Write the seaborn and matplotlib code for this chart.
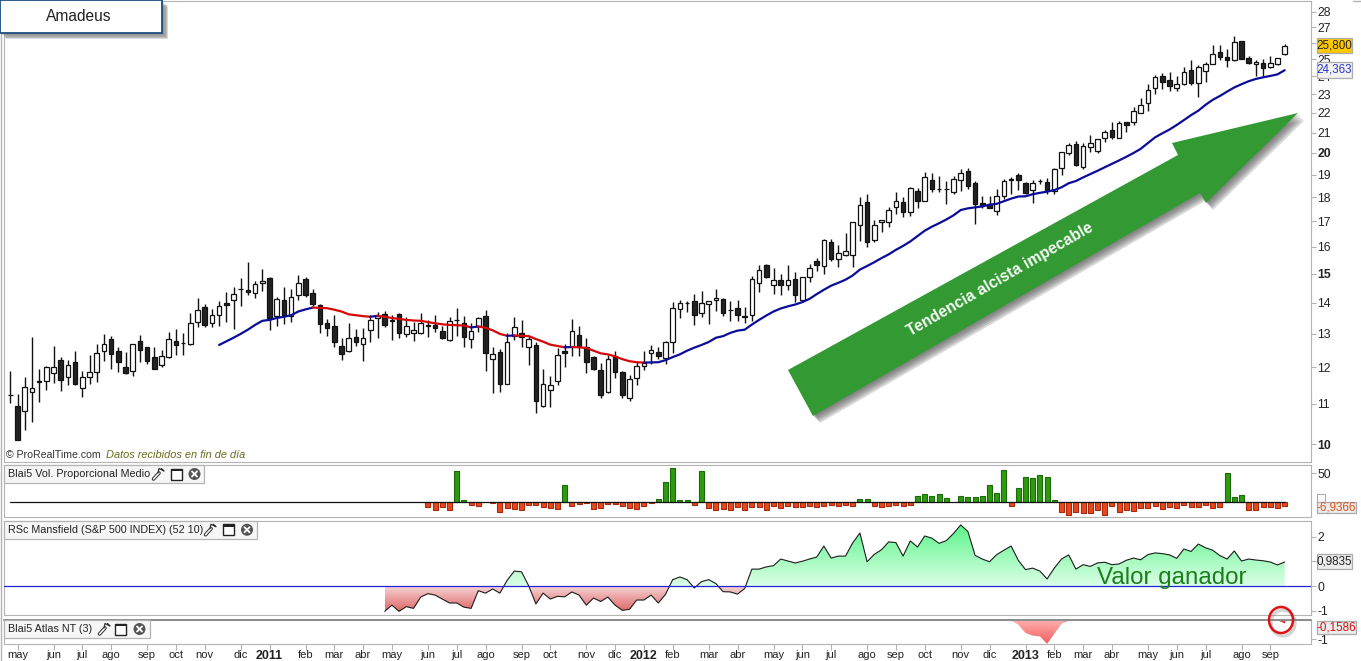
import numpy as np
import matplotlib
matplotlib.use('Agg')
import matplotlib.pyplot as plt
from matplotlib.colors import LinearSegmentedColormap
from matplotlib.patches import Rectangle, Polygon, Ellipse, Circle
from matplotlib.path import Path
import seaborn as sns

# weekly candles, May 2010 - Sep 2013
opens = [11.25,10.95,10.81,11.31,11.62,11.61,11.85,12.21,11.73,12.15,
         11.42,11.72,11.88,12.47,12.84,12.48,12.0,11.91,12.78,12.6,
         12.3,12.08,12.3,12.78,12.72,12.68,13.37,13.86,13.34,13.6,
         14.0,14.08,14.46,14.44,14.32,14.67,14.86,13.56,14.09,13.58,
         14.25,14.82,14.33,13.92,13.34,13.25,12.62,12.47,12.9,12.68,
         13.11,13.5,13.63,13.45,13.63,13.01,13.04,13.04,13.29,13.28,
         13.09,12.8,13.44,13.34,12.84,13.25,13.57,12.24,12.45,11.55,
         12.94,13.02,12.59,12.66,10.96,11.37,11.61,12.48,12.6,12.96,
         12.59,12.3,11.94,11.33,12.34,11.86,11.15,11.7,12.03,12.42,
         12.44,12.27,12.75,13.8,14.0,14.06,13.67,13.96,14.08,14.13,
         13.76,13.83,13.57,13.59,14.68,15.3,14.61,14.78,14.61,14.82,
         14.1,14.88,15.47,15.28,16.18,15.54,15.69,15.69,16.83,17.78,
         16.25,16.95,16.95,17.57,17.78,17.36,18.28,17.84,18.74,18.37,
         18.37,18.21,18.74,19.14,18.6,17.74,17.7,17.44,18.07,18.78,
         18.96,18.6,18.3,18.73,18.66,18.28,19.28,20.02,20.42,19.35,
         20.31,20.1,20.74,21.15,20.75,21.51,21.51,22.02,22.55,23.33,
         24.0,23.8,23.33,23.6,24.35,23.65,24.3,24.73,25.42,25.16,
         24.96,26.09,25.1,24.75,24.8,24.55,24.7,25.32]
closes = [11.25,10.09,11.46,11.43,11.58,12.0,12.0,11.66,12.06,11.54,
          11.73,11.86,12.42,12.69,12.38,12.17,11.83,12.69,12.5,12.2,
          11.96,12.33,12.84,12.65,12.72,13.34,13.76,13.29,13.6,13.9,
          13.92,14.3,14.46,14.36,14.64,14.75,13.51,14.13,13.6,14.2,
          14.68,14.25,13.95,13.3,13.18,12.74,12.38,12.87,12.74,12.87,
          13.44,13.56,13.27,13.4,13.04,13.23,13.11,13.34,13.23,13.17,
          12.86,13.4,13.44,12.89,13.08,13.5,12.41,12.39,11.55,12.75,
          13.21,12.89,12.84,11.09,11.55,11.5,12.36,12.41,13.08,12.62,
          12.15,11.96,11.23,12.24,11.88,11.25,11.67,12.03,12.12,12.5,
          12.32,12.75,13.82,14.0,14.0,13.6,14.0,14.06,14.16,13.66,
          13.76,13.6,13.53,14.81,15.14,14.88,14.78,14.61,14.78,14.26,
          14.88,15.21,15.3,16.25,15.54,15.77,15.84,16.95,17.68,16.18,
          16.83,17.03,17.48,17.84,17.39,18.4,17.86,18.9,18.37,18.37,
          18.37,18.82,19.05,18.47,17.72,17.65,17.55,18.07,18.69,18.74,
          18.74,18.2,18.6,18.73,18.3,19.23,20.03,20.37,19.43,20.34,
          20.47,20.7,21.05,20.79,21.46,21.39,22.09,22.41,23.23,23.95,
          23.7,23.48,23.56,24.23,23.65,24.52,24.75,25.33,25.12,24.98,
          26.04,25.02,24.8,24.87,24.46,24.8,25.1,25.8]
highs = [11.9,11.27,11.74,12.91,11.95,12.04,12.64,12.3,12.22,12.49,
         11.9,12.37,12.7,13.0,12.94,12.6,12.46,12.69,12.97,12.6,
         12.6,12.52,13.06,13.16,13.02,13.65,14.16,13.97,13.8,14.07,
         14.36,14.54,14.85,15.44,14.74,15.18,14.87,14.2,14.55,14.47,
         14.97,14.88,14.47,13.97,13.48,13.6,12.87,13.34,13.16,13.18,
         13.61,13.7,13.74,13.6,13.66,13.53,13.37,13.66,13.45,13.61,
         13.25,13.53,13.84,13.58,13.34,13.53,13.76,12.61,12.55,13.02,
         13.53,13.45,12.92,12.75,11.96,11.76,12.57,12.69,13.48,13.25,
         12.87,12.32,12.12,12.37,12.48,11.9,11.79,12.17,12.48,12.67,
         12.6,12.79,14.01,14.1,14.05,14.3,14.4,14.06,14.48,14.16,
         14.07,14.1,13.85,14.93,15.3,15.36,15.21,14.99,15.33,15.07,
         14.88,15.36,15.58,16.29,16.3,16.07,16.54,16.97,18.0,18.16,
         17.07,17.07,17.6,18.21,18.01,18.43,18.4,19.13,19.05,18.95,
         18.7,18.94,19.27,19.28,18.69,18.06,18.06,18.34,18.82,18.91,
         19.05,18.67,18.75,18.8,18.84,19.3,20.06,20.5,20.56,20.47,
         20.9,20.7,21.15,21.55,21.58,21.53,22.3,22.8,23.6,24.08,
         24.17,24.25,24.03,24.55,24.94,24.65,24.85,25.87,25.87,25.6,
         26.4,26.1,25.2,24.94,25.04,25.17,25.1,25.92]
lows = [11.02,10.09,10.35,10.55,11.05,11.38,11.56,11.35,11.52,11.5,
        11.19,11.54,11.6,12.2,11.96,11.87,11.82,11.77,12.16,12.09,
        11.96,12.02,12.27,12.37,12.37,12.66,13.2,13.2,13.2,13.25,
        13.38,13.15,13.88,14.25,14.17,14.38,13.13,13.25,13.32,13.38,
        14.1,14.2,13.88,13.04,12.92,12.6,12.22,12.44,12.64,12.2,
        12.76,12.86,13.22,12.82,12.86,12.89,12.77,13.0,12.91,13.06,
        12.84,12.78,12.94,12.59,12.56,13.06,11.9,11.3,11.33,11.55,
        12.82,12.59,12.06,10.76,10.93,10.93,11.5,12.02,12.32,12.32,
        11.83,11.94,11.15,11.29,11.7,11.16,11.08,11.5,11.94,12.1,
        12.25,12.1,12.42,13.5,13.68,13.27,13.52,13.3,13.74,13.55,
        13.42,13.42,13.33,13.4,14.36,14.84,14.29,14.25,14.43,14.03,
        14.05,14.7,15.09,14.98,15.46,15.23,15.66,15.23,16.2,15.99,
        16.17,16.55,16.77,17.29,17.18,17.22,17.55,17.82,18.24,18.24,
        17.7,18.13,18.28,18.34,16.89,17.56,17.53,17.26,17.93,18.16,
        18.3,18.16,17.75,18.56,18.16,18.13,18.97,19.9,19.4,19.24,
        20.06,20.02,20.54,20.66,20.75,21.04,21.39,21.98,22.1,23.03,
        23.28,23.2,23.17,23.52,23.54,22.83,23.7,24.7,24.98,24.55,
        24.9,25.0,24.7,24.0,24.0,24.5,24.65,25.27]

# moving average, first value is at week 29
ma_first_week = 29
ma_values = [12.66,12.77,12.88,13.0,13.13,13.28,13.41,13.44,13.5,13.54,
             13.59,13.71,13.78,13.84,13.83,13.82,13.77,13.71,13.62,13.59,
             13.56,13.54,13.57,13.54,13.5,13.47,13.44,13.42,13.41,13.37,
             13.33,13.3,13.28,13.27,13.26,13.2,13.23,13.19,13.11,13.0,
             12.94,12.95,12.94,12.93,12.84,12.76,12.67,12.63,12.59,12.6,
             12.59,12.57,12.49,12.41,12.38,12.32,12.24,12.18,12.15,12.14,
             12.145,12.15,12.21,12.3,12.38,12.49,12.58,12.66,12.75,12.88,
             12.93,13.03,13.1,13.13,13.29,13.44,13.58,13.71,13.81,13.88,
             13.94,14.02,14.13,14.29,14.44,14.58,14.68,14.79,14.94,15.15,
             15.28,15.42,15.57,15.71,15.88,16.03,16.2,16.41,16.62,16.78,
             16.92,17.07,17.24,17.46,17.53,17.57,17.61,17.68,17.72,17.83,
             17.94,18.03,18.04,18.13,18.19,18.24,18.31,18.43,18.61,18.71,
             18.87,19.02,19.17,19.33,19.49,19.65,19.82,20.0,20.2,20.48,
             20.76,20.96,21.15,21.38,21.63,21.89,22.12,22.43,22.7,22.91,
             23.15,23.38,23.56,23.73,23.86,23.95,24.03,24.12,24.36]

vol_first_week = 58
vol_values = [-8.6,-14,-8.6,-14,53,3.5,-5,-7,0,-2,
              -17,-10,-12,-14,-5,-5,-8.6,-10,-12,29,
              -7,-3.5,-2,-12,-10,-3.5,-3.5,-7,-10,-12,
              -7,-2,5,35,58,3.5,3.5,-4.6,53,-10,
              -14,-12,-14,-8.6,-14,-8.6,-8.6,-14,-7,-10,
              -7,-8.6,-8.6,-7,-8.6,-7,-5,-7,-5,-7,
              5,5,-7,-8.6,-7,-5,-7,-5,10,14,
              10,14,7,0,10,9,9,10,29,16,
              55,-7,24,43,41,47,43,3.5,-17,-22,
              -17,-19,-19,-14,-22,-7,-17,-14,-16,-10,
              -10,-7,-12,-8.6,-10,-5,-8.6,-8.6,-5,-10,
              -8.6,50,9,12,-14,-14,-8.6,-8.6,-10,-6.94]

rs_first_week = 52
rs_values = [-1.03,-0.78,-1.03,-0.84,-0.91,-0.45,-0.31,-0.37,-0.53,-0.69,
             -0.69,-0.86,-0.91,-0.19,-0.29,-0.12,-0.29,0.23,0.61,0.58,
             0.01,-0.73,-0.29,-0.53,-0.42,-0.44,-0.24,-0.37,-0.78,-0.49,
             -0.63,-0.45,-0.78,-0.99,-0.95,-0.57,-0.57,-0.37,-0.69,-0.34,
             0.26,0.37,0.26,-0.08,0.18,0.26,0.1,-0.23,-0.24,-0.33,
             -0.1,0.69,0.69,0.78,0.83,1.1,1.02,0.94,1.01,1.1,
             1.18,1.63,1.14,1.22,1.22,1.76,2.16,0.99,1.29,1.48,
             1.8,1.77,1.22,1.84,1.59,2.04,1.95,1.74,1.85,2.14,
             2.49,2.22,1.25,1.1,0.99,1.28,1.46,1.63,1.05,0.67,
             0.73,0.61,0.29,0.73,1.1,1.27,0.69,0.87,0.8,0.94,
             0.97,0.87,0.9,1.05,1.14,1.07,1.28,1.35,1.32,1.27,
             1.13,1.51,1.41,1.71,1.56,1.46,1.24,1.1,1.43,1.02,
             1.1,1.06,1.03,0.98,0.86,0.98]

atlas_weeks = [139,140,141,142,143,144,145,146,147,148]
atlas_values = [-0.02,-0.25,-0.68,-0.82,-0.86,-1.25,-0.72,-0.2,-0.05,0]
atlas_end_weeks = [176,177]
atlas_end_values = [0,-0.16]

price_ticks = [10,11,12,13,14,15,16,17,18,19,20,21,22,23,24,25,26,27,28]
bold_ticks = [10,15,20]

month_weeks = [1,6,10,14,19,23,27,32,36,41,45,49,53,58,62,66,71,75,80,84,88,92,
               97,101,106,110,114,119,123,127,132,136,141,145,149,153,158,162,166,171,175]
month_labels = ['may','jun','jul','ago','sep','oct','nov','dic','2011','feb','mar','abr',
                'may','jun','jul','ago','sep','oct','nov','dic','2012','feb',
                'mar','abr','may','jun','jul','ago','sep','oct','nov','dic','2013','feb',
                'mar','abr','may','jun','jul','ago','sep']

W, H = 1361, 661
GRAY = '#b4b4b4'
LEFT, RIGHT = 4, 1311
XLIM = ((LEFT - 10.3) / 7.2, (RIGHT - 10.3) / 7.2)

sns.set_theme(style='white')
plt.rcParams['font.family'] = ['Liberation Sans', 'DejaVu Sans']
plt.rcParams['axes.linewidth'] = 0.8
plt.rcParams['axes.edgecolor'] = GRAY

fig = plt.figure(figsize=(W / 100, H / 100), dpi=100)


def panel(top, bottom):
    ax = fig.add_axes([LEFT / W, 1 - bottom / H, (RIGHT - LEFT) / W, (bottom - top) / H])
    ax.yaxis.tick_right()
    ax.tick_params(axis='y', length=3.6, width=0.8, color=GRAY, pad=1, labelsize=8.8,
                   labelcolor='#222222', which='major', right=True)
    ax.tick_params(axis='y', which='minor', length=0)
    ax.set_xticks([])
    return ax


def gradient_fill(ax, x, y, cond, c_far, c_near, vfar):
    poly = ax.fill_between(x, 0, y, where=cond, interpolate=True, facecolor='none', edgecolor='none')
    path = Path.make_compound_path(*poly.get_paths())
    cmap = LinearSegmentedColormap.from_list('g', [c_near, c_far])
    lo, hi = (0, vfar) if vfar > 0 else (vfar, 0)
    grad = np.linspace(0, 1, 256)[:, None] if vfar > 0 else np.linspace(1, 0, 256)[:, None]
    im = ax.imshow(grad, extent=[x[0], x[-1], lo, hi], origin='lower', aspect='auto', cmap=cmap, zorder=1)
    im.set_clip_path(path, transform=ax.transData)


# main price panel
ax = panel(1, 462)
weeks = np.arange(len(opens))
o, c, h, l = map(np.array, (opens, closes, highs, lows))
ax.set_yscale('log')
ax.vlines(weeks, l, h, color='#111111', lw=1.0, zorder=2)
up = c >= o
ax.bar(weeks[up], (c - o)[up], bottom=o[up], width=0.62, facecolor='white', edgecolor='#111111', lw=0.9, zorder=3)
ax.bar(weeks[~up], (o - c)[~up], bottom=c[~up], width=0.62, facecolor='#222222', edgecolor='#111111', lw=0.9, zorder=3)

ma = np.array(ma_values)
ma_weeks = ma_first_week + np.arange(len(ma))
rising = np.diff(ma) >= 0
start = 0
for i in range(1, len(rising) + 1):
    if i == len(rising) or rising[i] != rising[start]:
        sns.lineplot(x=ma_weeks[start:i + 1], y=ma[start:i + 1], ax=ax, estimator=None, sort=False,
                     color='#0c0c9a' if rising[start] else '#d40808', linewidth=1.6, zorder=4,
                     solid_capstyle='round')
        start = i
ax.set_ylim(10 * 2 ** ((444 - 462) / 291), 10 * 2 ** ((444 - 1) / 291))
ax.set_yticks(price_ticks)
ax.set_yticklabels([str(t) for t in price_ticks])
ax.minorticks_off()
for t, lab in zip(price_ticks, ax.get_yticklabels()):
    if t in bold_ticks:
        lab.set_fontweight('bold')

# volume oscillator
ax_v = panel(465, 517)
vol = np.array(vol_values)
vol_weeks = vol_first_week + np.arange(len(vol))
sns.barplot(x=vol_weeks[vol > 0], y=vol[vol > 0], native_scale=True, ax=ax_v, color='#2f9a10',
            edgecolor='#1b6a08', linewidth=0.8, width=0.72, saturation=1, zorder=2)
sns.barplot(x=vol_weeks[vol < 0], y=vol[vol < 0], native_scale=True, ax=ax_v, color='#e9481c',
            edgecolor='#a52a10', linewidth=0.8, width=0.72, saturation=1, zorder=2)
ax_v.plot([-0.1, 177], [0, 0], color='#111111', lw=0.9, zorder=3)
ax_v.set_ylim(-25.5, 64)
ax_v.set_yticks([50])
ax_v.set_yticklabels(['50'])

# RS Mansfield
ax_r = panel(521, 615)
rs = np.array(rs_values)
rs_weeks = rs_first_week + np.arange(len(rs))
gradient_fill(ax_r, rs_weeks, rs, rs >= 0, '#5af58a', '#dcffe6', 2.5)
gradient_fill(ax_r, rs_weeks, rs, rs <= 0, '#dd5f5f', '#f7d4d4', -1.1)
sns.lineplot(x=rs_weeks, y=rs, ax=ax_r, color='#1c1c1c', linewidth=0.8, estimator=None, zorder=3)
ax_r.axhline(0, color='#2222dd', lw=0.9, zorder=4)
ax_r.set_ylim(-1.18, 2.65)
ax_r.set_yticks([-1, 0, 1, 2])
ax_r.set_yticklabels(['-1', '0', '1', '2'])

# Atlas NT
ax_a = panel(620, 644)
gradient_fill(ax_a, np.array(atlas_weeks, dtype=float), np.array(atlas_values), np.array(atlas_values) <= 0,
              '#f25a5a', '#ffb4b4', -1.3)
ax_a.fill_between(atlas_end_weeks, 0, atlas_end_values, color='#e03030', lw=0, zorder=2)
ax_a.axhline(0, color='#8c8c8c', lw=1.4, zorder=4, clip_on=False)
ax_a.set_ylim(-1.26, 0)
ax_a.set_yticks([-1])
ax_a.set_yticklabels(['-1'])
ax_a.set_xticks(month_weeks)
ax_a.set_xticklabels(month_labels)
ax_a.tick_params(axis='x', bottom=True, length=4, width=0.8, color=GRAY, pad=0.5, labelsize=8,
                 labelcolor='#222222')
for lab in ax_a.get_xticklabels():
    if lab.get_text().isdigit():
        lab.set_fontweight('bold')
        lab.set_fontsize(9)

for a in (ax, ax_v, ax_r, ax_a):
    a.set_xlim(*XLIM)
    a.set_xlabel('')
    a.set_ylabel('')

# pixel overlay for annotations
ov = fig.add_axes([0, 0, 1, 1], zorder=10)
ov.set_xlim(0, W)
ov.set_ylim(H, 0)
ov.axis('off')
ov.patch.set_alpha(0)


def shadow(points, dx=5, dy=5, layers=4):
    for k in range(layers, 0, -1):
        off = k * dx / layers
        ov.add_patch(Polygon([(x + off, y + k * dy / layers) for x, y in points], closed=True,
                             facecolor='#555555', edgecolor='none', alpha=0.22))


ov.plot([1, 1], [34, H], color=GRAY, lw=1)
ov.plot([1353, W], [0.5, 0.5], color=GRAY, lw=1)

# title box
title_pts = [(0, 0), (162, 0), (162, 33), (0, 33)]
shadow(title_pts, 6, 6, 5)
ov.add_patch(Rectangle((0, 0), 162, 33, facecolor='white', edgecolor='#1f4e80', lw=1.3))
ov.text(79, 16.5, 'Amadeus', ha='center', va='center', fontsize=11.2, color='#222222')

# arrow
arrow_pts = [(788, 370), (1178, 155), (1172, 143), (1298, 113), (1206, 203), (1200, 193), (813, 416)]
shadow(arrow_pts, 7, 7, 5)
ov.add_patch(Polygon(arrow_pts, closed=True, facecolor='#339933', edgecolor='none'))
ov.text(1000, 279, 'Tendencia alcista impecable', color='#f4fbf4', fontsize=11.3, fontweight='bold',
        rotation=30, rotation_mode='anchor', ha='center', va='center')

ov.text(1097, 578, 'Valor ganador', color='#1a7f1a', fontsize=17.4, ha='left', va='center')

# footer
ov.text(6, 455.5, '© ProRealTime.com', color='#333333', fontsize=7.6, va='center')
ov.text(106, 455.5, 'Datos recibidos en fin de día', color='#6b6b1f', fontsize=7.9, style='italic', va='center')


def icons(xw, xb, xc, yc):
    for col, lw in (('#333333', 2.6), ('white', 1.1)):
        ov.plot([xw + 1.5, xw + 7], [yc + 5, yc - 1], color=col, lw=lw, solid_capstyle='round')
    ov.plot([xw + 6, xw + 7, xw + 12, xw + 9.5], [yc - 1, yc - 5.5, yc - 3, yc - 5.5], color='#333333', lw=0.9)
    ov.add_patch(Rectangle((xb, yc - 5.5), 11, 11, facecolor='white', edgecolor='#222222', lw=1))
    ov.add_patch(Rectangle((xb, yc - 5.5), 11, 2.5, facecolor='#222222', edgecolor='none'))
    ov.add_patch(Circle((xc, yc), 6, facecolor='#555555', edgecolor='none'))
    ov.plot([xc - 2.5, xc + 2.5], [yc - 2.5, yc + 2.5], color='white', lw=1.3)
    ov.plot([xc - 2.5, xc + 2.5], [yc + 2.5, yc - 2.5], color='white', lw=1.3)


def header(text, right, top, bottom, xw, xb, xc):
    ov.add_patch(Rectangle((4, top), right - 4, bottom - top, facecolor='#f6f6f6', edgecolor=GRAY, lw=0.9))
    ov.text(8, (top + bottom) / 2, text, fontsize=7.75, color='#222222', va='center')
    icons(xw, xb, xc, (top + bottom) / 2)


header('Blai5 Vol. Proporcional Medio', 204, 465, 483, 152, 171, 194.5)
header('RSc Mansfield (S&P 500 INDEX) (52 10)', 257, 521, 538.5, 204, 223, 247)
header('Blai5 Atlas NT (3)', 150, 620, 638, 98, 115, 139.5)


def value_box(text, x0, x1, y0, y1, face, color):
    ov.add_patch(Rectangle((x0, y0), x1 - x0, y1 - y0, facecolor=face, edgecolor='#ababab', lw=0.9))
    ov.text((x0 + x1) / 2, (y0 + y1) / 2, text, color=color, fontsize=8.4, ha='center', va='center')


value_box('25,800', 1317, 1352, 38, 53, '#ffc800', '#222222')
value_box('24,363', 1317, 1352, 62, 78, '#f2f2f2', '#2a35cc')
ov.add_patch(Rectangle((1317, 494), 8, 8, facecolor='white', edgecolor='#ababab', lw=0.8))
value_box('-6,9366', 1317, 1356, 502, 513, '#ececec', '#e0521f')
value_box('0,9835', 1317, 1352, 554, 569, '#ececec', '#222222')
value_box('-0,1586', 1317, 1356, 621, 634, '#ececec', '#d81010')

# hand drawn red ring
ov.add_patch(Ellipse((1283, 623), 24, 26, facecolor='none', edgecolor='#888888', lw=2.4, alpha=0.35))
ov.add_patch(Ellipse((1281, 620), 24, 26, facecolor='none', edgecolor='#e01010', lw=1.8))

fig.savefig('out.png', dpi=100)
